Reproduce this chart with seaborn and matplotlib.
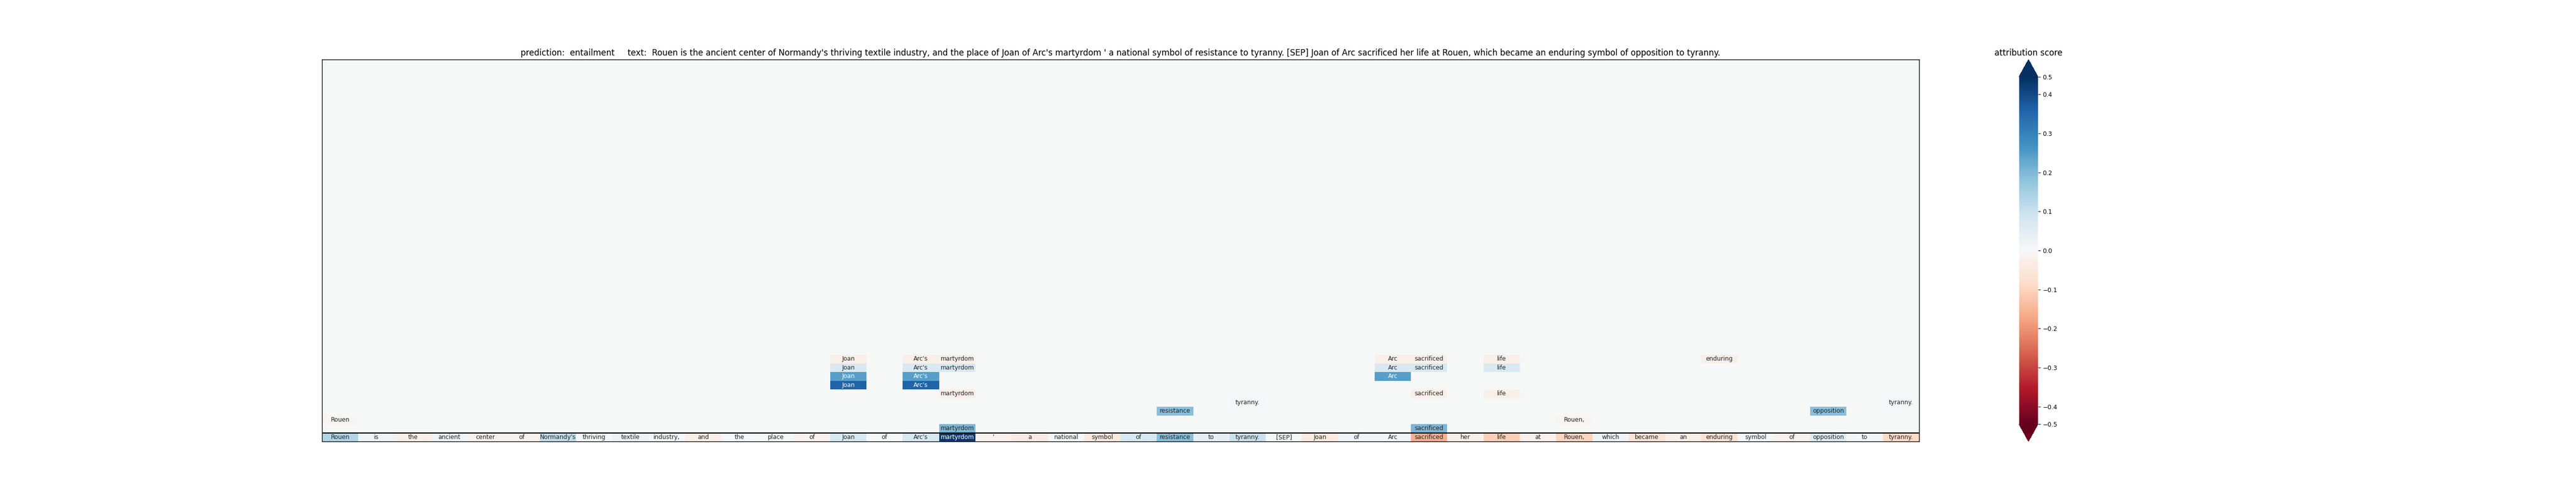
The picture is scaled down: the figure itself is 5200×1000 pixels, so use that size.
import numpy as np
import seaborn as sns
import matplotlib
matplotlib.use('Agg')
import matplotlib.pyplot as plt

# tokens of premise + hypothesis (one column each)
tokens = ['Rouen', 'is', 'the', 'ancient', 'center', 'of', "Normandy's", 'thriving',
          'textile', 'industry,', 'and', 'the', 'place', 'of', 'Joan', 'of', "Arc's",
          'martyrdom', "'", 'a', 'national', 'symbol', 'of', 'resistance', 'to',
          'tyranny.', '[SEP]', 'Joan', 'of', 'Arc', 'sacrificed', 'her', 'life', 'at',
          'Rouen,', 'which', 'became', 'an', 'enduring', 'symbol', 'of', 'opposition',
          'to', 'tyranny.']

# bottom row: attribution of every token
token_scores = [0.135, 0.02, -0.03, 0.02, -0.015, -0.015, 0.11, 0.005,
                0.025, 0.005, -0.025, 0.005, 0.0, -0.02, 0.07, 0.0, 0.075,
                0.43, -0.02, -0.035, 0.005, -0.045, 0.07, 0.19, 0.04,
                0.10, 0.0, -0.04, 0.015, 0.015, -0.16, -0.025, -0.11, -0.02,
                -0.10, 0.02, -0.06, -0.025, -0.065, 0.005, -0.02, 0.06,
                0.01, -0.09]

# sparse upper rows: token index -> score
row34 = {14: -0.025, 16: -0.025, 17: -0.025, 29: -0.025, 30: -0.025, 32: -0.025, 38: -0.025}
row35 = {14: 0.07, 16: 0.07, 17: 0.07, 29: 0.07, 30: 0.07, 32: 0.07}
row36 = {14: 0.245, 16: 0.245, 29: 0.245}
row37 = {14: 0.36, 16: 0.36}
row38 = {17: -0.025, 30: -0.025, 32: -0.025}
row39 = {25: 0.005, 43: 0.005}
row40 = {23: 0.19, 41: 0.19}
row41 = {0: -0.01, 34: -0.01}
row42 = {17: 0.205, 30: 0.205}
upper_rows = {34: row34, 35: row35, 36: row36, 37: row37, 38: row38,
              39: row39, 40: row40, 41: row41, 42: row42}

cbar_ticks = [-0.445, -0.4, -0.3, -0.2, -0.1, 0.0, 0.1, 0.2, 0.3, 0.4, 0.445]
cbar_tick_labels = ['\u22120.5', '\u22120.4', '\u22120.3', '\u22120.2', '\u22120.1', '0.0',
                    '0.1', '0.2', '0.3', '0.4', '0.5']

n = len(tokens)
scores = np.zeros((n, n))
labels = np.full((n, n), '', dtype=object)
for r, cells in upper_rows.items():
    for c, v in cells.items():
        scores[r, c] = v
        labels[r, c] = tokens[c]
scores[n - 1] = token_scores
labels[n - 1] = tokens

fig, ax = plt.subplots(figsize=(52, 10), dpi=100)
sns.heatmap(scores, ax=ax, cmap='RdBu', vmin=-0.445, vmax=0.445,
            annot=labels, fmt='', annot_kws={'fontsize': 8.7},
            xticklabels=False, yticklabels=False,
            cbar_kws={'extend': 'both', 'ticks': cbar_ticks})

for s in ax.spines.values():
    s.set_visible(True)
    s.set_color('black')
    s.set_linewidth(1)
ax.axhline(n - 1, color='black', linewidth=1.6)

cbar = ax.collections[0].colorbar
cbar.set_ticklabels(cbar_tick_labels)
cbar.ax.tick_params(labelsize=8.8)
cbar.ax.set_title('attribution score', fontsize=12)

text = ' '.join(tokens)
ax.set_title('prediction:  entailment     text:  ' + text, fontsize=12)

plt.savefig('out.png')
